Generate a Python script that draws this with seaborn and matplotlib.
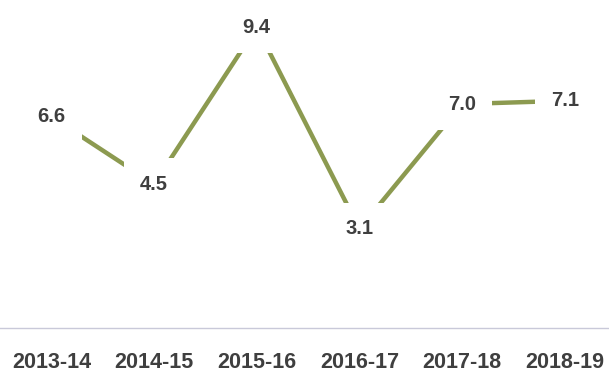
import matplotlib
matplotlib.use("Agg")
import matplotlib.pyplot as plt
import seaborn as sns
import pandas as pd

years = ["2013-14", "2014-15", "2015-16", "2016-17", "2017-18", "2018-19"]
growth = [6.6, 4.5, 9.4, 3.1, 7.0, 7.1]

sns.set_theme(style="white")
plt.rcParams["font.family"] = ["Liberation Sans", "DejaVu Sans"]

df = pd.DataFrame({"year": years, "growth": growth})
df["pos"] = range(len(years))

fig = plt.figure(figsize=(6.09, 3.72), dpi=100)
ax = fig.add_axes([0, 0.118, 1, 0.882])

sns.lineplot(data=df, x="pos", y="growth", ax=ax, color="#8c9a50",
             linewidth=3.2, zorder=1)

for x, y in zip(df["pos"], df["growth"]):
    ax.text(x, y, f"{y:.1f}", ha="center", va="center", fontsize=14.5,
            fontweight="bold", color="#3f3f3f", zorder=3,
            bbox=dict(boxstyle="square,pad=0.8", fc="white", ec="none"))

ax.set_xlim(-0.5, 5.43)
ax.set_ylim(0, 10.25)
ax.set_xticks(df["pos"])
ax.set_xticklabels(years, fontsize=15.5, fontweight="bold", color="#3f3f3f")
ax.tick_params(axis="x", length=0, pad=17)
ax.set_yticks([])
ax.set_xlabel("")
ax.set_ylabel("")
for side in ["left", "right", "top"]:
    ax.spines[side].set_visible(False)
ax.spines["bottom"].set_color("#c9c9d9")
ax.spines["bottom"].set_linewidth(1.0)

fig.savefig("out.png", dpi=100)
